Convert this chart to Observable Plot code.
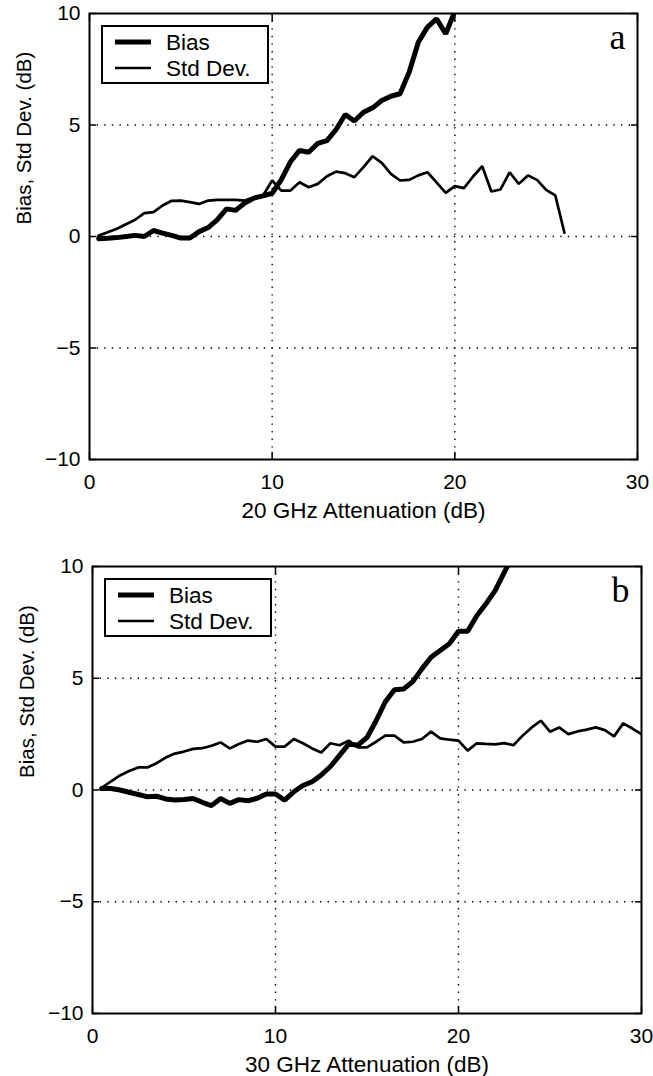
<!DOCTYPE html>
<html>
<head>
<meta charset="utf-8">
<script src="https://cdn.jsdelivr.net/npm/d3@7"></script>
<script src="https://cdn.jsdelivr.net/npm/@observablehq/plot@0.6"></script>
<style>
  html, body { margin: 0; padding: 0; background: white; }
  .panel { position: relative; width: 653px; }
  .panel svg.legend { position: absolute; }
  .panel > svg { display: block; }
</style>
</head>
<body>
<div id="chart"></div>
<script>
// ---- Data ----
const atten20 = [0.5,1,1.5,2,2.5,3,3.5,4,4.5,5,5.5,6,6.5,7,7.5,8,8.5,9,9.5,10,10.5,11,11.5,12,12.5,13,13.5,14,14.5,15,15.5,16,16.5,17,17.5,18,18.5,19,19.5,20,20.5,21,21.5,22,22.5,23,23.5,24,24.5,25,25.5,26];
const bias20 = [-0.1,-0.08,-0.05,0.0,0.05,0.0,0.27,0.15,0.05,-0.07,-0.07,0.22,0.4,0.76,1.24,1.17,1.5,1.72,1.82,1.94,2.55,3.35,3.86,3.78,4.18,4.3,4.8,5.47,5.18,5.57,5.77,6.1,6.29,6.4,7.37,8.71,9.39,9.76,9.09,10.1];
const std20 = [0.04,0.19,0.35,0.55,0.75,1.05,1.09,1.39,1.6,1.61,1.54,1.46,1.61,1.64,1.64,1.64,1.61,1.76,1.84,2.51,2.06,2.06,2.43,2.21,2.36,2.7,2.91,2.84,2.66,3.11,3.6,3.3,2.81,2.51,2.54,2.74,2.88,2.43,1.96,2.26,2.17,2.69,3.15,2.02,2.11,2.88,2.36,2.74,2.54,2.09,1.84,0.17];

const atten30 = [0.5,1,1.5,2,2.5,3,3.5,4,4.5,5,5.5,6,6.5,7,7.5,8,8.5,9,9.5,10,10.5,11,11.5,12,12.5,13,13.5,14,14.5,15,15.5,16,16.5,17,17.5,18,18.5,19,19.5,20,20.5,21,21.5,22,22.5,23,23.5,24,24.5,25,25.5,26,26.5,27,27.5,28,28.5,29,29.5,30];
const bias30 = [0.07,0.07,0.0,-0.1,-0.2,-0.3,-0.28,-0.4,-0.45,-0.42,-0.38,-0.55,-0.7,-0.38,-0.6,-0.43,-0.48,-0.37,-0.18,-0.18,-0.45,-0.08,0.2,0.37,0.67,1.05,1.55,2.05,2.01,2.35,3.1,3.95,4.49,4.52,4.85,5.42,5.94,6.24,6.54,7.1,7.1,7.8,8.33,8.92,9.74,10.5];
const std30 = [0.1,0.38,0.65,0.85,1.01,1.01,1.2,1.45,1.63,1.72,1.84,1.87,1.98,2.13,1.86,2.06,2.21,2.16,2.28,1.94,1.94,2.28,2.09,1.86,1.68,2.09,2.0,2.21,1.91,1.91,2.16,2.43,2.43,2.13,2.16,2.28,2.61,2.31,2.25,2.21,1.76,2.09,2.06,2.04,2.1,2.0,2.43,2.8,3.1,2.61,2.8,2.5,2.62,2.7,2.8,2.68,2.4,2.98,2.75,2.5];

const xTicks = [0, 10, 20, 30];
const yTicks = [-10, -5, 0, 5, 10];
const xGrid = [10, 20];
const yGrid = [-5, 0, 5];
const seriesNames = ["Bias", "Std Dev."];
const yLabel = "Bias, Std Dev. (dB)";
const xLabels = ["20 GHz Attenuation (dB)", "30 GHz Attenuation (dB)"];
const panelLetters = ["a", "b"];

const FONT = "'Liberation Sans', Arial, Helvetica, sans-serif";

function makePanel({x, bias, std, xLabel, letter, height, marginTop, marginBottom, marginLeft, marginRight}) {
  const biasData = bias.map((v, i) => ({x: x[i], y: v}));
  const stdData = std.map((v, i) => ({x: x[i], y: v}));
  const plot = Plot.plot({
    width: 653, height, marginTop, marginBottom, marginLeft, marginRight,
    style: {fontFamily: FONT, fontSize: "21px", background: "white", color: "black", overflow: "visible"},
    x: {domain: [0, 30]},
    y: {domain: [-10, 10]},
    marks: [
      Plot.gridX(xGrid, {stroke: "black", strokeOpacity: 1, strokeWidth: 1.4, strokeDasharray: "1.4,6.2"}),
      Plot.gridY(yGrid, {stroke: "black", strokeOpacity: 1, strokeWidth: 1.4, strokeDasharray: "1.4,6.2"}),
      Plot.line(stdData, {x: "x", y: "y", stroke: "black", strokeWidth: 2.7, clip: true, strokeLinejoin: "miter"}),
      Plot.line(biasData, {x: "x", y: "y", stroke: "black", strokeWidth: 5, clip: true, strokeLinejoin: "miter"}),
      Plot.axisX(xTicks, {anchor: "bottom", tickSize: 0, tickPadding: 15, label: null, fontSize: 21}),
      Plot.axisX(xTicks, {anchor: "bottom", tickSize: -7, strokeWidth: 1.5, tickFormat: () => "", label: null}),
      Plot.axisX(xTicks, {anchor: "top", tickSize: -7, strokeWidth: 1.5, tickFormat: () => "", label: null}),
      Plot.axisY(yTicks, {anchor: "left", tickSize: 0, tickPadding: 9, label: null, fontSize: 21}),
      Plot.axisY(yTicks, {anchor: "left", tickSize: -7, strokeWidth: 1.5, tickFormat: () => "", label: null}),
      Plot.axisY(yTicks, {anchor: "right", tickSize: -7, strokeWidth: 1.5, tickFormat: () => "", label: null}),
      Plot.frame({stroke: "black", strokeWidth: 2}),
      Plot.text([xLabel], {frameAnchor: "bottom", dy: 58, lineAnchor: "bottom", fontSize: 22.5, fill: "black"}),
      Plot.text([yLabel], {frameAnchor: "left", dx: -65, dy: -12, rotate: -90, fontSize: 20.5, fill: "black"}),
      Plot.text([letter], {frameAnchor: "top-right", dx: -12, dy: 35, lineAnchor: "bottom", textAnchor: "end", fontSize: 36, fontFamily: "'Liberation Serif', 'Times New Roman', serif", fill: "black"})
    ]
  });
  const wrap = document.createElement("div");
  wrap.className = "panel";
  wrap.appendChild(plot);

  // legend box (inside the frame, top-left)
  const lg = d3.create("svg").attr("class", "legend")
    .attr("width", 168).attr("height", 59)
    .style("left", (marginLeft + 12) + "px").style("top", (marginTop + 12) + "px");
  lg.append("rect").attr("x", 1).attr("y", 1).attr("width", 166).attr("height", 57)
    .attr("fill", "white").attr("stroke", "black").attr("stroke-width", 2);
  const widths = [5, 2.7];
  const ys = [17, 43];
  seriesNames.forEach((name, i) => {
    lg.append("line").attr("x1", 14).attr("x2", 50).attr("y1", ys[i]).attr("y2", ys[i])
      .attr("stroke", "black").attr("stroke-width", widths[i]);
    lg.append("text").attr("x", 65).attr("y", ys[i] + 7.5).text(name)
      .attr("font-family", FONT).attr("font-size", 22.5).attr("fill", "black");
  });
  wrap.appendChild(lg.node());
  return wrap;
}

const root = document.getElementById("chart");
root.appendChild(makePanel({x: atten20, bias: bias20, std: std20, xLabel: xLabels[0], letter: panelLetters[0],
  height: 540, marginTop: 13, marginBottom: 81, marginLeft: 89, marginRight: 16}));
root.appendChild(makePanel({x: atten30, bias: bias30, std: std30, xLabel: xLabels[1], letter: panelLetters[1],
  height: 536, marginTop: 26, marginBottom: 63, marginLeft: 92, marginRight: 12}));
</script>
</body>
</html>
